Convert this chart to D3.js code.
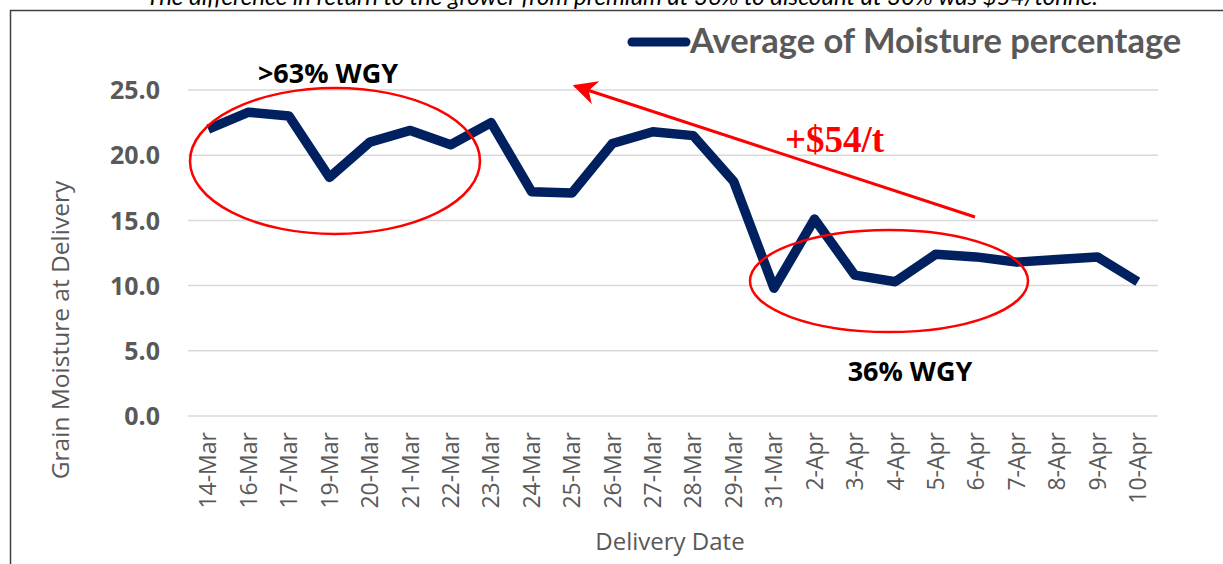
<!DOCTYPE html>
<html>
<head>
<meta charset="utf-8">
<script src="https://cdn.jsdelivr.net/npm/d3@7"></script>
<style>
  body { margin: 0; background: #fff; }
  svg { display: block; font-family: "Open Sans", sans-serif; }
</style>
</head>
<body>
<div id="chart"></div>
<script>
var dates = ["14-Mar","16-Mar","17-Mar","19-Mar","20-Mar","21-Mar","22-Mar","23-Mar","24-Mar","25-Mar",
  "26-Mar","27-Mar","28-Mar","29-Mar","31-Mar","2-Apr","3-Apr","4-Apr","5-Apr","6-Apr","7-Apr","8-Apr","9-Apr","10-Apr"];
var moisture = [22.0,23.3,23.0,18.3,21.0,21.9,20.8,22.5,17.2,17.1,
  20.9,21.8,21.5,18.0,9.8,15.1,10.8,10.3,12.4,12.2,11.8,12.0,12.2,10.3];
var yTicks = [0,5,10,15,20,25];

var W = 1223, H = 564;
var margin = {left: 188, right: 65, top: 90, bottom: 148};

var svg = d3.select("#chart").append("svg").attr("width", W).attr("height", H);

// caption, cut off at the top as in the source
svg.append("text")
    .attr("x", 622).attr("y", 5)
    .attr("text-anchor", "middle")
    .style("font-family", "Lato, sans-serif")
    .style("font-style", "italic").style("font-size", "24px").attr("fill", "#000")
    .text("The difference in return to the grower from premium at 36% to discount at 30% was $54/tonne.");

svg.append("rect").attr("x", 10.5).attr("y", 10.5).attr("width", W).attr("height", H)
    .attr("fill", "none").attr("stroke", "#404040").attr("stroke-width", 1.5);

var x = d3.scaleBand().domain(dates).range([margin.left, W - margin.right]);
var y = d3.scaleLinear().domain([0, 25]).range([H - margin.bottom, margin.top]);

// gridlines
svg.append("g").selectAll("line").data(yTicks).enter().append("line")
    .attr("x1", margin.left).attr("x2", W - margin.right)
    .attr("y1", d => y(d)).attr("y2", d => y(d))
    .attr("stroke", "#d9d9d9").attr("stroke-width", 1.5);

// y axis labels
var yAxis = svg.append("g").attr("transform", "translate(" + (margin.left - 28) + ",0)")
    .call(d3.axisLeft(y).tickValues(yTicks).tickFormat(d3.format(".1f")).tickSize(0));
yAxis.select(".domain").remove();
yAxis.selectAll("text").attr("fill", "#595959").style("font-size", "25px").style("font-weight", "bold")
    .style("font-family", "'Open Sans', sans-serif").attr("dy", "0.35em").attr("x", 0);

// x axis labels
var xAxis = svg.append("g").attr("transform", "translate(0," + (H - margin.bottom) + ")")
    .call(d3.axisBottom(x).tickSize(0));
xAxis.select(".domain").remove();
xAxis.selectAll("text")
    .attr("fill", "#595959").style("font-size", "23px").style("font-family", "'Open Sans', sans-serif")
    .attr("transform", "rotate(-90)")
    .attr("text-anchor", "end")
    .attr("x", -16).attr("y", 0).attr("dy", "0.36em");

// axis titles
svg.append("text").attr("transform", "translate(69,330) rotate(-90)")
    .attr("text-anchor", "middle").attr("fill", "#595959").style("font-size", "24.5px")
    .text("Grain Moisture at Delivery");
svg.append("text").attr("x", 670).attr("y", 550)
    .attr("text-anchor", "middle").attr("fill", "#595959").style("font-size", "24px")
    .text("Delivery Date");

// series line
var line = d3.line().x((d, i) => x(dates[i]) + x.bandwidth() / 2).y(d => y(d));
svg.append("path").datum(moisture).attr("d", line)
    .attr("fill", "none").attr("stroke", "#002060").attr("stroke-width", 9.5)
    .attr("stroke-linejoin", "round").attr("stroke-linecap", "butt");

// legend
svg.append("line").attr("x1", 632).attr("x2", 686).attr("y1", 42).attr("y2", 42)
    .attr("stroke", "#002060").attr("stroke-width", 9).attr("stroke-linecap", "round");
svg.append("text").attr("x", 690).attr("y", 53).attr("fill", "#595959")
    .style("font-family", "Lato, sans-serif")
    .style("font-size", "34.5px").style("font-weight", "bold")
    .text("Average of Moisture percentage");

// annotations
svg.append("ellipse").attr("cx", 335).attr("cy", 161).attr("rx", 145).attr("ry", 73)
    .attr("fill", "none").attr("stroke", "#ff0000").attr("stroke-width", 2.5);
svg.append("ellipse").attr("cx", 889).attr("cy", 281).attr("rx", 139).attr("ry", 51)
    .attr("fill", "none").attr("stroke", "#ff0000").attr("stroke-width", 2.5);

svg.append("defs").append("marker").attr("id", "arr")
    .attr("viewBox", "0 0 10 10").attr("refX", 9).attr("refY", 5)
    .attr("markerWidth", 8).attr("markerHeight", 8).attr("markerUnits", "strokeWidth")
    .attr("orient", "auto")
    .append("path").attr("d", "M0,0 L10,5 L0,10 L3,5 Z").attr("fill", "#ff0000");
svg.append("line").attr("x1", 975).attr("y1", 217).attr("x2", 575).attr("y2", 86)
    .attr("stroke", "#ff0000").attr("stroke-width", 3).attr("marker-end", "url(#arr)");

svg.append("text").attr("x", 785).attr("y", 152).attr("fill", "#ff0000")
    .style("font-family", "'Liberation Serif', serif").style("font-size", "37px").style("font-weight", "bold")
    .text("+$54/t");
svg.append("text").attr("x", 328).attr("y", 83).attr("text-anchor", "middle").attr("fill", "#000")
    .style("font-size", "27px").style("font-weight", "bold").text(">63% WGY");
svg.append("text").attr("x", 910).attr("y", 381).attr("text-anchor", "middle").attr("fill", "#000")
    .style("font-size", "27px").style("font-weight", "bold").text("36% WGY");
</script>
</body>
</html>
